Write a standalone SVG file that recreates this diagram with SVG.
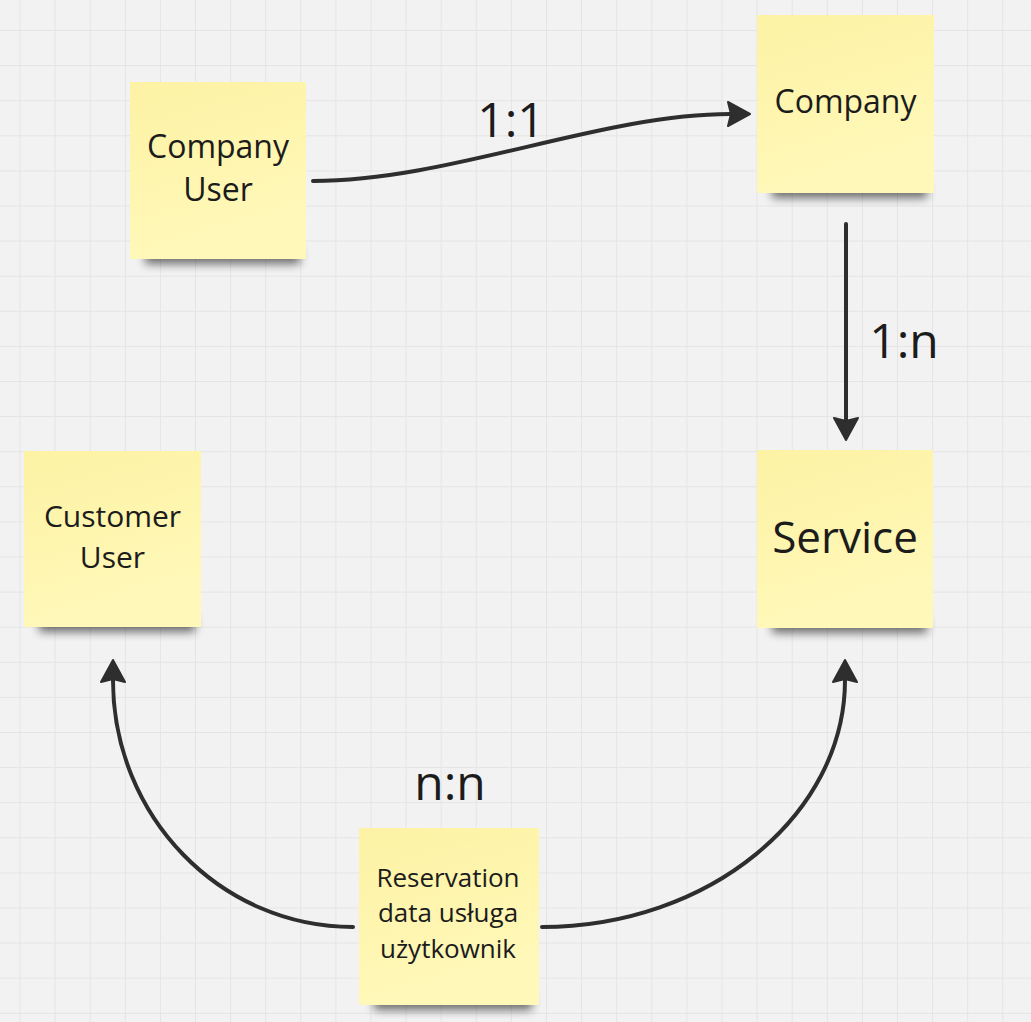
<svg xmlns="http://www.w3.org/2000/svg" width="1031" height="1022" viewBox="0 0 1031 1022">
  <defs>
    <pattern id="grid" width="35.1" height="35.1" patternUnits="userSpaceOnUse" x="19.5" y="30">
      <rect width="35.1" height="1" fill="#e4e4e4"/>
      <rect width="1" height="35.1" fill="#e4e4e4"/>
    </pattern>
    <linearGradient id="sticky" x1="0" y1="0" x2="0.3" y2="1">
      <stop offset="0" stop-color="#fdf2a4"/>
      <stop offset="1" stop-color="#fff8b9"/>
    </linearGradient>
    <filter id="blur" x="-20%" y="-100%" width="140%" height="300%">
      <feGaussianBlur stdDeviation="5"/>
    </filter>
    <marker id="arrow" markerUnits="userSpaceOnUse" markerWidth="30" markerHeight="30" viewBox="-2 -15 28 30" refX="2" refY="0" orient="auto">
      <path d="M0,-12 L22,0 L0,12 L3,0 z" fill="#2e2e2e" stroke="#2e2e2e" stroke-width="2" stroke-linejoin="round"/>
    </marker>
  </defs>
  <style>
    .note { fill: url(#sticky); }
    .shadow { fill: #000; opacity: 0.55; filter: url(#blur); }
    .t { font-family: "Open Sans", "Noto Sans", sans-serif; fill: #1c1c1c; text-anchor: middle; }
    .lbl { font-family: "Open Sans", "Noto Sans", sans-serif; fill: #1c1c1c; text-anchor: middle; font-size: 48px; }
    .conn { fill: none; stroke: #2e2e2e; stroke-width: 4; stroke-linecap: round; marker-end: url(#arrow); }
  </style>
  <rect width="1031" height="1022" fill="#f2f2f2"/>
  <rect width="1031" height="1022" fill="url(#grid)"/>

  <g id="connectors">
    <path class="conn" d="M313,181 C450,181 600,114 730,114"/>
    <path class="conn" d="M846,224 L846,420"/>
    <path class="conn" d="M353,927 C220,927 113,816 113,680"/>
    <path class="conn" d="M542,927 C709,927 845,815 845,680"/>
  </g>

  <g id="labels">
    <text class="lbl" x="511" y="137">1:1</text>
    <text class="lbl" x="904" y="358">1:n</text>
    <text class="lbl" x="450" y="800">n:n</text>
  </g>

  <g id="company-user">
    <rect class="shadow" x="145" y="248" width="155" height="16"/>
    <rect class="note" x="130" y="82" width="176" height="177"/>
    <text class="t" font-size="32" x="218" y="158">Company</text>
    <text class="t" font-size="32" x="218" y="201">User</text>
  </g>

  <g id="company">
    <rect class="shadow" x="772" y="182" width="155" height="16"/>
    <rect class="note" x="757" y="15" width="177" height="178"/>
    <text class="t" font-size="32" x="845.5" y="113">Company</text>
  </g>

  <g id="service">
    <rect class="shadow" x="772" y="617" width="155" height="16"/>
    <rect class="note" x="757" y="450" width="176" height="178"/>
    <text class="t" font-size="44" x="845" y="553">Service</text>
  </g>

  <g id="customer-user">
    <rect class="shadow" x="39" y="616" width="156" height="16"/>
    <rect class="note" x="24" y="451" width="177" height="176"/>
    <text class="t" font-size="30" x="112.5" y="527">Customer</text>
    <text class="t" font-size="30" x="112.5" y="568">User</text>
  </g>

  <g id="reservation">
    <rect class="shadow" x="374" y="994" width="158" height="16"/>
    <rect class="note" x="359" y="828" width="180" height="177"/>
    <text class="t" font-size="26" x="448" y="887">Reservation</text>
    <text class="t" font-size="26" x="448" y="922">data usługa</text>
    <text class="t" font-size="26" x="448" y="958">użytkownik</text>
  </g>
</svg>
